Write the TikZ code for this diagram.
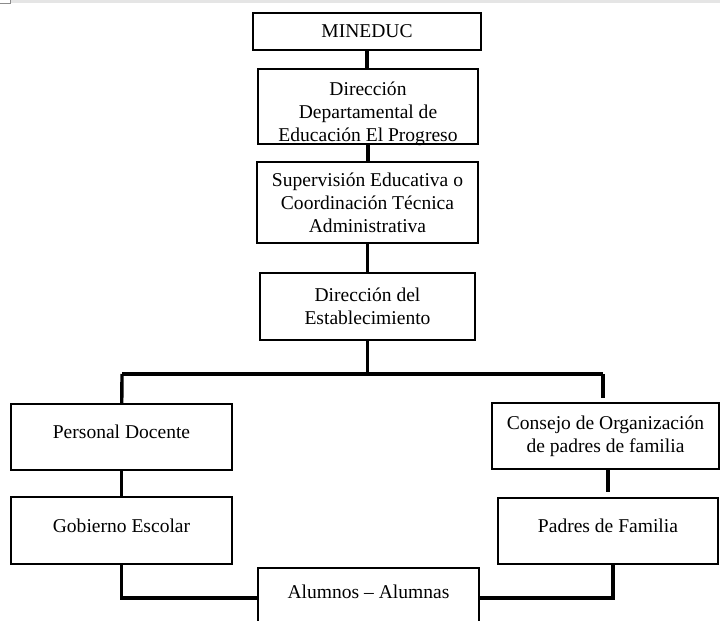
\documentclass[tikz,border=0pt]{standalone}
\usepackage{fontspec}
\setmainfont{Liberation Serif}

\begin{document}
\begin{tikzpicture}[font=\fontsize{13.9}{16.3}\selectfont,
		box/.style={draw, line width=1.5pt, align=center, inner sep=2pt},
		raised/.style={text height=0.33cm, text depth=0.25cm},
		link/.style={line width=2.4pt}]
			\useasboundingbox (0,0) rectangle (18,-15.525);
			\clip (0,0) rectangle (18,-15.525);
			\fill[black!10] (0.25,0) rectangle (18,-0.075);
			\draw[black!45, line width=0.6pt] (0,-0.075) -- (0.25,-0.075) -- (0.25,0);
			\node[box, minimum width=5.7cm, minimum height=0.925cm] (mineduc) at (9.175,-0.7875) {MINEDUC};
			\node[box, minimum width=5.5cm, minimum height=1.825cm, text height=1.725cm, text depth=0cm] (depto) at (9.2,-2.6625)
			{Dirección\\ Departamental de\\ Educación El Progreso};
			\node[box, minimum width=5.525cm, minimum height=2.025cm] (superv) at (9.1875,-5.0625)
			{Supervisión Educativa o\\ Coordinación Técnica\\ Administrativa};
			\node[box, minimum width=5.375cm, minimum height=1.675cm] (direst) at (9.1875,-7.6625)
			{Dirección del\\ Establecimiento};
			\coordinate (busL) at (3.05,-9.35);
			\coordinate (busR) at (15.075,-9.35);
			\node[box, raised, minimum width=5.525cm, minimum height=1.65cm] (docente) at (3.0375,-10.925) {Personal Docente};
			\node[box, raised, minimum width=5.525cm, minimum height=1.675cm] (gobierno) at (3.0375,-13.2625) {Gobierno Escolar};
			\node[box, minimum width=5.675cm, minimum height=1.65cm] (consejo) at (15.1375,-10.9)
			{Consejo de Organización\\ de padres de familia};
			\node[box, raised, minimum width=5.5cm, minimum height=1.65cm] (padres) at (15.2,-13.275) {Padres de Familia};
			\node[box, anchor=north, minimum width=5.525cm, inner ysep=0pt, text height=0.75cm, text depth=1.6cm]
			(alumnos) at (9.2125,-14.175) {Alumnos -- Alumnas};
			\draw[link] (mineduc) -- (mineduc |- depto.north);
			\draw[link] (depto) -- (depto |- superv.north);
			\draw[link] (superv) -- (superv |- direst.north);
			\draw[link] (direst) -- (direst |- busL);
			\draw[link] (busL) -- (busR);
			\draw[link] (busL) -- (docente);
			\draw[link, shorten >=0.1cm] (busR) -- (busR |- consejo.north);
			\draw[link] (docente) -- (gobierno);
			\draw[link, shorten >=0.12cm] (padres |- consejo.south) -- (padres);
			\draw[link] (gobierno) |- (alumnos.base west);
			\draw[link] (padres.south -| 15.325,0) |- (alumnos.base east);
		\end{tikzpicture}
\end{document}
